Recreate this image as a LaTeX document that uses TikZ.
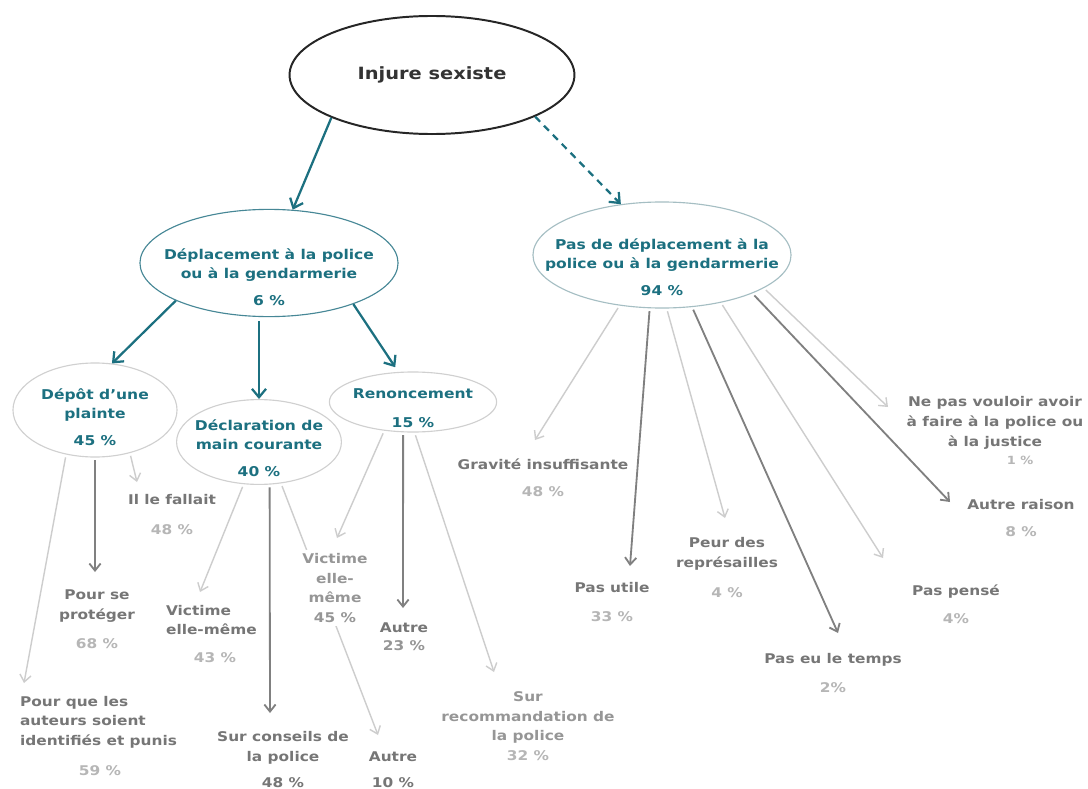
\documentclass[tikz,border=0pt]{standalone}
\usepackage{fontspec}
\setmainfont{DejaVu Sans}[FakeStretch=1.15]
\usetikzlibrary{shapes.geometric,arrows.meta}
\definecolor{tealc}{RGB}{28,112,128}
\definecolor{depline}{RGB}{70,135,150}
\definecolor{pasline}{RGB}{165,190,195}
\definecolor{ellgray}{RGB}{208,208,208}
\definecolor{leafdark}{RGB}{118,118,118}
\definecolor{leafmid}{RGB}{150,150,150}
\definecolor{leaflight}{RGB}{182,182,182}
\definecolor{arrdark}{RGB}{128,128,128}
\definecolor{arrlight}{RGB}{205,205,205}
\begin{document}
\begin{tikzpicture}[x=0.025cm, y=-0.025cm,
  ell/.style={draw,ellipse,line width=0.8pt},
  elltxt/.style={align=center,text=tealc,font=\fontsize{9.6}{13.5}\selectfont\bfseries},
  leaf/.style={align=center,text=leafdark,inner sep=2pt,font=\fontsize{9.5}{14}\selectfont\bfseries},
  pct/.style={text=leaflight,inner sep=2pt,font=\fontsize{9.5}{14}\selectfont\bfseries},
  tarr/.style={-{Straight Barb[length=6pt,width=10pt]},line width=1.6pt,tealc},
  darr/.style={-{Straight Barb[length=5pt,width=8pt]},line width=1.3pt,arrdark,shorten <=2pt},
  larr/.style={-{Straight Barb[length=5pt,width=8pt]},line width=1pt,arrlight,shorten <=2pt}]
\useasboundingbox[fill=white] (0,0) rectangle (1088,789);
% first two levels
\node[ell,draw=black!85,line width=1.4pt,minimum width=7.12cm,minimum height=2.95cm,text=black!80,font=\fontsize{12}{14}\selectfont\bfseries] (inj) at (432,75) {Injure sexiste};
\node[ell,draw=depline,minimum width=6.45cm,minimum height=2.68cm] (dep) at (269,263) {};
\node[elltxt] (dep-t) at (269,277) {Déplacement à la police\\ou à la gendarmerie\\[6pt]6 \%};
\node[ell,draw=pasline,minimum width=6.45cm,minimum height=2.65cm] (pas) at (662,255) {};
\node[elltxt] (pas-t) at (662,267) {Pas de déplacement à la\\police ou à la gendarmerie\\[6pt]94 \%};
\draw[tarr] (inj.203) -- (dep.66);
\draw[tarr,dash pattern=on 5pt off 4pt] (inj.-22) -- (pas.129);
% third level
\node[ell,draw=ellgray,minimum width=4.1cm,minimum height=2.35cm] (plainte) at (95,410) {};
\node[elltxt] (plainte-t) at (95,417) {Dépôt d’une\\plainte\\[6pt]45 \%};
\node[ell,draw=ellgray,minimum width=4.12cm,minimum height=2.12cm] (main) at (259,442) {};
\node[elltxt] (main-t) at (259,448) {Déclaration de\\main courante\\[6pt]40 \%};
\node[ell,draw=ellgray,minimum width=4.18cm,minimum height=1.5cm] (renon) at (413,402) {};
\node[elltxt] (renon-t) at (413,408) {Renoncement\\[7pt]15 \%};
\draw[tarr] (dep.-158) -- (plainte.70);
\draw[tarr,shorten <=3pt] (main.north |- dep.south) -- (main.north);
\draw[tarr,shorten >=4pt] (dep.-26) -- (renon.116);
% arrow ends
\coordinate (t-auteurs) at (24,683);
\coordinate (t-proteger) at (95,572);
\coordinate (t-fallait) at (137,482);
\coordinate (t-victime1) at (200,592);
\coordinate (t-conseils) at (270,713);
\coordinate (t-autre2) at (378,735);
\coordinate (t-victime2) at (337,538);
\coordinate (t-autre1) at (403,608);
\coordinate (t-recom) at (494,672);
\coordinate (t-grav) at (535,440);
\coordinate (t-utile) at (630,566);
\coordinate (t-peur) at (725,518);
\coordinate (t-temps) at (838,633);
\coordinate (t-pense) at (883,558);
\coordinate (t-autre3) at (950,502);
\coordinate (t-justice) at (888,407);
\draw[larr] (plainte.-123) -- (t-auteurs);
\draw[darr] (plainte.-90) -- (t-proteger);
\draw[larr] (plainte.-51) -- (t-fallait);
\draw[larr] (main.-110) -- (t-victime1);
\draw[darr] (main.-76) -- (t-conseils);
\draw[larr] (main.-62) -- (t-autre2);
\draw[larr] (renon.-135) -- (t-victime2);
\draw[darr] (renon.-108) -- (t-autre1);
\draw[larr] (renon.-87) -- (t-recom);
\draw[larr] (pas.-130) -- (t-grav);
\draw[darr] (pas.-103) -- (t-utile);
\draw[larr] (pas.-85) -- (t-peur);
\draw[darr] (pas.-60) -- (t-temps);
\draw[larr] (pas.-39) -- (t-pense);
\draw[darr] (pas.-23) -- (t-autre3);
\draw[larr] (pas.-18) -- (t-justice);
% leaves, left
\node[leaf,align=left,anchor=west] (l-auteurs) at (17,722) {Pour que les\\auteurs soient\\identifiés et punis};
\node[pct] (p-auteurs) at (100,771) {59 \%};
\node[leaf] (l-proteger) at (97,606) {Pour se\\protéger};
\node[pct] (p-proteger) at (97,644) {68 \%};
\node[leaf] (l-fallait) at (172,500) {Il le fallait};
\node[pct] (p-fallait) at (172,530) {48 \%};
\node[leaf,align=left,anchor=west] (l-victime1) at (163,620) {Victime\\elle-même};
\node[pct] (p-victime1) at (215,658) {43 \%};
\node[leaf] (l-conseils) at (283,748) {Sur conseils de\\la police};
\node[leaf] (p-conseils) at (283,783) {48 \%};
\node[leaf,text=leafmid,fill=white] (l-victime2) at (335,588) {Victime\\elle-\\même\\45 \%};
\node[leaf] (l-autre1) at (404,628) {Autre};
\node[leaf,text=leafmid] (p-autre1) at (404,646) {23 \%};
\node[leaf] (l-autre2) at (393,757) {Autre};
\node[leaf] (p-autre2) at (393,783) {10 \%};
\node[leaf,text=leafmid] (l-recom) at (528,726) {Sur\\recommandation de\\la police\\{\color{leaflight}32 \%}};
% leaves, right
\node[leaf] (l-grav) at (543,464) {Gravité insuffisante};
\node[pct] (p-grav) at (543,492) {48 \%};
\node[leaf] (l-utile) at (612,588) {Pas utile};
\node[pct] (p-utile) at (612,617) {33 \%};
\node[leaf] (l-peur) at (727,554) {Peur des\\représailles};
\node[pct] (p-peur) at (727,593) {4 \%};
\node[leaf] (l-temps) at (833,660) {Pas eu le temps};
\node[pct] (p-temps) at (833,688) {2\%};
\node[leaf] (l-pense) at (956,592) {Pas pensé};
\node[pct] (p-pense) at (956,619) {4\%};
\node[leaf] (l-autre3) at (1021,505) {Autre raison};
\node[pct] (p-autre3) at (1021,532) {8 \%};
\node[leaf] (l-justice) at (995,423) {Ne pas vouloir avoir\\à faire à la police ou\\à la justice};
\node[pct,font=\fontsize{8}{10}\selectfont\bfseries] (p-justice) at (1020,460) {1 \%};
\end{tikzpicture}
\end{document}
